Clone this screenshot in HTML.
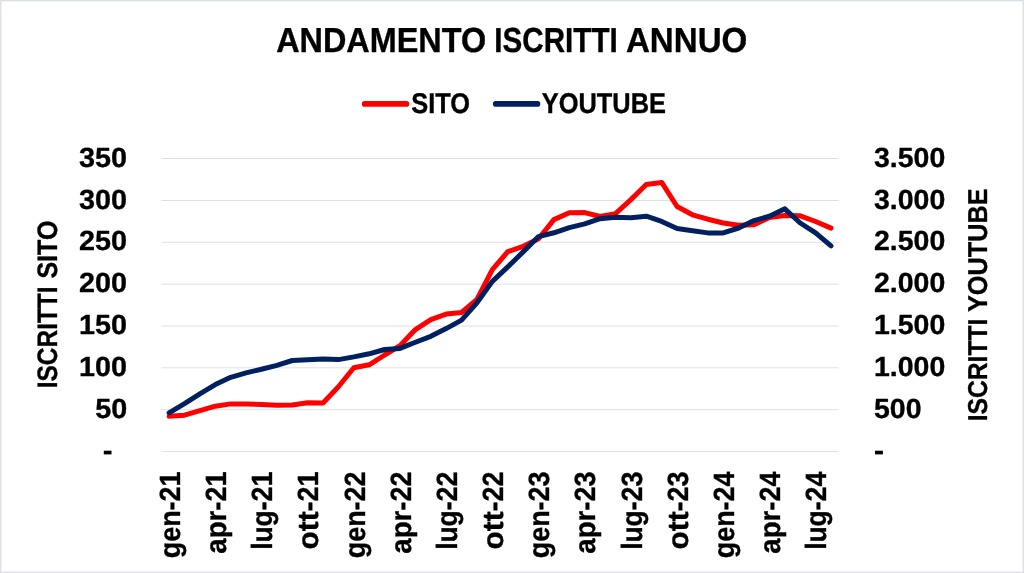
<!DOCTYPE html>
<html><head><meta charset="utf-8"><title>Andamento iscritti annuo</title>
<style>html,body{margin:0;padding:0;background:#fff;}svg{display:block;}</style></head>
<body><svg width="1024" height="573" viewBox="0 0 1024 573">
<rect x="0" y="0" width="1024" height="573" fill="#dde1e7"/>
<rect x="1" y="1" width="1022" height="571" fill="#f1f3f5"/>
<rect x="2" y="2" width="1020" height="569" fill="#fff"/>
<rect x="161.40" y="158.00" width="677.30" height="1" fill="#dce0e5"/>
<rect x="161.40" y="199.95" width="677.30" height="1" fill="#dce0e5"/>
<rect x="161.40" y="241.70" width="677.30" height="1" fill="#dce0e5"/>
<rect x="161.40" y="283.65" width="677.30" height="1" fill="#dce0e5"/>
<rect x="161.40" y="325.50" width="677.30" height="1" fill="#dce0e5"/>
<rect x="161.40" y="367.30" width="677.30" height="1" fill="#dce0e5"/>
<rect x="161.40" y="409.20" width="677.30" height="1" fill="#dce0e5"/>
<rect x="161.40" y="450.95" width="677.30" height="1" fill="#dce0e5"/>
<rect x="103.8" y="450.7" width="7.70" height="3.70" fill="#000"/>
<rect x="875.0" y="450.7" width="7.90" height="3.70" fill="#000"/>
<line x1="364.6" y1="103.9" x2="406.5" y2="103.9" stroke="#ff0000" stroke-width="5.6" stroke-linecap="round"/>
<line x1="495.7" y1="103.9" x2="537.5" y2="103.9" stroke="#002060" stroke-width="5.6" stroke-linecap="round"/>
<polyline points="169.10,416.30 184.49,415.20 199.88,410.70 215.28,406.20 230.67,403.90 246.06,403.90 261.46,404.60 276.85,405.30 292.24,405.00 307.64,402.80 323.03,402.90 338.42,386.80 353.81,367.70 369.21,364.80 384.60,355.00 399.99,345.70 415.39,329.60 430.78,319.60 446.17,314.10 461.57,312.40 476.96,299.50 492.35,269.60 507.75,251.70 523.14,246.30 538.53,238.80 553.93,219.60 569.32,212.80 584.71,212.60 600.11,216.50 615.50,213.60 630.89,199.60 646.29,184.50 661.68,182.40 677.07,206.50 692.46,214.80 707.86,219.20 723.25,223.00 738.64,225.30 754.04,224.80 769.43,217.50 784.82,215.50 800.22,215.80 815.61,221.50 831.00,228.10" fill="none" stroke="#ff0000" stroke-width="5" stroke-linecap="round" stroke-linejoin="round"/>
<polyline points="169.10,412.80 184.49,403.60 199.88,393.80 215.28,384.60 230.67,377.30 246.06,372.90 261.46,369.20 276.85,365.30 292.24,360.50 307.64,359.70 323.03,358.90 338.42,359.60 353.81,356.90 369.21,353.80 384.60,349.50 399.99,348.40 415.39,342.20 430.78,336.30 446.17,328.60 461.57,320.10 476.96,302.80 492.35,281.40 507.75,266.90 523.14,251.90 538.53,236.60 553.93,232.80 569.32,227.60 584.71,223.90 600.11,218.70 615.50,217.30 630.89,217.70 646.29,216.20 661.68,221.40 677.07,228.50 692.46,230.70 707.86,232.90 723.25,232.90 738.64,228.00 754.04,220.60 769.43,216.20 784.82,208.80 800.22,223.00 815.61,232.80 831.00,245.90" fill="none" stroke="#002060" stroke-width="5" stroke-linecap="round" stroke-linejoin="round"/>
<g font-family="'Liberation Sans', sans-serif" font-weight="bold" fill="#000" stroke="#000" stroke-width="0.35" stroke-linejoin="round" text-rendering="geometricPrecision" style="will-change:transform">
<text font-size="34" transform="matrix(0.95270 0 0 1.02267 276.188 52.243)">ANDAMENTO</text>
<text font-size="34" transform="matrix(0.87156 0 0 1.02267 494.294 52.243)">ISCRITTI</text>
<text font-size="34" transform="matrix(0.97331 0 0 1.02267 625.966 52.243)">ANNUO</text>
<text font-size="28" transform="matrix(0.90741 0 0 1.01980 411.228 112.560)">SITO</text>
<text font-size="28" transform="matrix(0.90722 0 0 1.02122 541.792 112.560)">YOUTUBE</text>
<text font-size="28" transform="matrix(1.02778 0 0 0.98995 79.113 166.725)">350</text>
<text font-size="28" transform="matrix(1.02778 0 0 0.98995 79.113 208.675)">300</text>
<text font-size="28" transform="matrix(1.02778 0 0 0.98995 79.113 250.425)">250</text>
<text font-size="28" transform="matrix(1.02778 0 0 0.98995 79.113 292.375)">200</text>
<text font-size="28" transform="matrix(1.02778 0 0 0.98995 79.113 334.225)">150</text>
<text font-size="28" transform="matrix(1.02778 0 0 0.98995 79.113 376.025)">100</text>
<text font-size="28" transform="matrix(1.02778 0 0 0.98995 95.308 417.925)">50</text>
<text font-size="28" transform="matrix(1.01618 0 0 0.98995 874.023 166.725)">3.500</text>
<text font-size="28" transform="matrix(1.01618 0 0 0.98995 874.023 208.675)">3.000</text>
<text font-size="28" transform="matrix(1.01618 0 0 0.98995 874.023 250.425)">2.500</text>
<text font-size="28" transform="matrix(1.01618 0 0 0.98995 874.023 292.375)">2.000</text>
<text font-size="28" transform="matrix(1.01618 0 0 0.98995 874.023 334.225)">1.500</text>
<text font-size="28" transform="matrix(1.01618 0 0 0.98995 874.023 376.025)">1.000</text>
<text font-size="28" transform="matrix(1.01618 0 0 0.98995 874.023 417.925)">500</text>
<text font-size="28" transform="matrix(0 -0.96117 1.04281 0 179.900 501.462)">21</text>
<text font-size="28" transform="matrix(0 -0.96092 1.04281 0 179.900 558.261)">gen-</text>
<text font-size="28" transform="matrix(0 -0.96117 1.04281 0 226.060 501.462)">21</text>
<text font-size="28" transform="matrix(0 -0.98697 1.04281 0 226.060 553.679)">apr-</text>
<text font-size="28" transform="matrix(0 -0.96117 1.04281 0 272.220 501.462)">21</text>
<text font-size="28" transform="matrix(0 -0.94292 1.04281 0 272.220 549.845)">lug-</text>
<text font-size="28" transform="matrix(0 -0.96117 1.04281 0 318.380 501.462)">21</text>
<text font-size="28" transform="matrix(0 -1.06632 1.04281 0 318.380 549.529)">ott-</text>
<text font-size="28" transform="matrix(0 -0.96117 1.04281 0 364.540 501.462)">22</text>
<text font-size="28" transform="matrix(0 -0.96092 1.04281 0 364.540 558.261)">gen-</text>
<text font-size="28" transform="matrix(0 -0.96117 1.04281 0 410.700 501.462)">22</text>
<text font-size="28" transform="matrix(0 -0.98697 1.04281 0 410.700 553.679)">apr-</text>
<text font-size="28" transform="matrix(0 -0.96117 1.04281 0 456.860 501.462)">22</text>
<text font-size="28" transform="matrix(0 -0.94292 1.04281 0 456.860 549.845)">lug-</text>
<text font-size="28" transform="matrix(0 -0.96117 1.04281 0 503.020 501.462)">22</text>
<text font-size="28" transform="matrix(0 -1.06632 1.04281 0 503.020 549.529)">ott-</text>
<text font-size="28" transform="matrix(0 -0.96117 1.04281 0 549.180 501.462)">23</text>
<text font-size="28" transform="matrix(0 -0.96092 1.04281 0 549.180 558.261)">gen-</text>
<text font-size="28" transform="matrix(0 -0.96117 1.04281 0 595.340 501.462)">23</text>
<text font-size="28" transform="matrix(0 -0.98697 1.04281 0 595.340 553.679)">apr-</text>
<text font-size="28" transform="matrix(0 -0.96117 1.04281 0 641.500 501.462)">23</text>
<text font-size="28" transform="matrix(0 -0.94292 1.04281 0 641.500 549.845)">lug-</text>
<text font-size="28" transform="matrix(0 -0.96117 1.04281 0 687.660 501.462)">23</text>
<text font-size="28" transform="matrix(0 -1.06632 1.04281 0 687.660 549.529)">ott-</text>
<text font-size="28" transform="matrix(0 -0.96117 1.04281 0 733.820 501.462)">24</text>
<text font-size="28" transform="matrix(0 -0.96092 1.04281 0 733.820 558.261)">gen-</text>
<text font-size="28" transform="matrix(0 -0.96117 1.04281 0 779.980 501.462)">24</text>
<text font-size="28" transform="matrix(0 -0.98697 1.04281 0 779.980 553.679)">apr-</text>
<text font-size="28" transform="matrix(0 -0.96117 1.04281 0 826.140 501.462)">24</text>
<text font-size="28" transform="matrix(0 -0.94292 1.04281 0 826.140 549.845)">lug-</text>
<text font-size="28" transform="matrix(0 -0.87251 1.00498 0 56.967 388.239)">ISCRITTI</text>
<text font-size="28" transform="matrix(0 -0.89303 1.00498 0 56.967 278.558)">SITO</text>
<text font-size="28" transform="matrix(0 -0.88047 0.97452 0 986.975 421.354)">ISCRITTI</text>
<text font-size="28" transform="matrix(0 -0.90351 0.97452 0 986.975 312.104)">YOUTUBE</text>
</g>
</svg></body></html>
